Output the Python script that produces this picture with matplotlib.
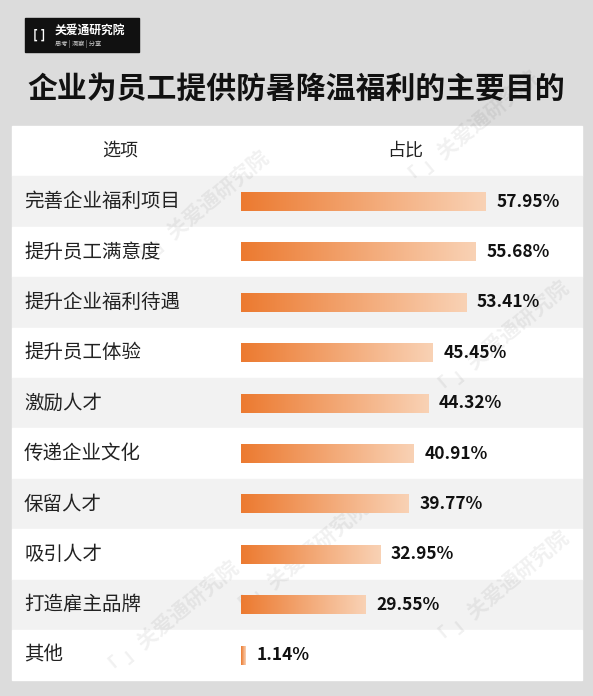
import matplotlib
matplotlib.use("Agg")
import matplotlib.pyplot as plt
import numpy as np
from matplotlib.colors import LinearSegmentedColormap

plt.rcParams['font.family'] = ['Noto Sans CJK SC', 'DejaVu Sans']

title = "企业为员工提供防暑降温福利的主要目的"
categories = ["完善企业福利项目", "提升员工满意度", "提升企业福利待遇", "提升员工体验",
              "激励人才", "传递企业文化", "保留人才", "吸引人才", "打造雇主品牌", "其他"]
values = [57.95, 55.68, 53.41, 45.45, 44.32, 40.91, 39.77, 32.95, 29.55, 1.14]

W, H = 593, 696
fig = plt.figure(figsize=(W / 100, H / 100), dpi=100)
fig.patch.set_facecolor("#dcdcdc")

# pixel-space background axes
bg = fig.add_axes([0, 0, 1, 1])
bg.set_xlim(0, W)
bg.set_ylim(H, 0)
bg.axis("off")

# logo
bg.add_patch(plt.Rectangle((25, 18), 114, 34, color="#111111"))
bg.text(33, 35, "[ ]", color="white", fontsize=9, va="center", weight="bold")
bg.text(55, 30, "关爱通研究院", color="white", fontsize=8.5, va="center", weight="bold")
bg.text(55, 44, "思考 | 洞察 | 分享", color="#cccccc", fontsize=4.5, va="center")

bg.text(W / 2, 89, title, fontsize=21.5, weight="bold", ha="center", va="center", color="#111111")

# table panel
top, row_h, left, right = 126, 50.4, 12, 582
n = len(categories)
bg.add_patch(plt.Rectangle((left, top), right - left, row_h, color="white"))
for i in range(n):
    c = "#f2f2f2" if i % 2 == 0 else "white"
    bg.add_patch(plt.Rectangle((left, top + row_h * (i + 1)), right - left, row_h, color=c))
bg.text(120, top + 25, "选项", fontsize=13, ha="center", va="center", color="#222222")
bg.text(405, top + 25, "占比", fontsize=13, ha="center", va="center", color="#222222")
for i, cat in enumerate(categories):
    bg.text(24, top + row_h * (i + 1.5), cat, fontsize=14, va="center", color="#222222")

# watermarks
for (x, y) in [(200, 210), (470, 130), (500, 340), (300, 560), (500, 590), (170, 620)]:
    bg.text(x, y, "「 」关爱通研究院", fontsize=15, rotation=40, color="#000000", alpha=0.06,
            ha="center", va="center", weight="bold")

# bar axes
px_per_pct = 4.22
ax = fig.add_axes([241 / W, 1 - (top + row_h * (n + 1)) / H,
                   (right - 241) / W, row_h * n / H])
ax.axis("off")
ax.patch.set_alpha(0)

cmap = LinearSegmentedColormap.from_list("og", ["#ec7a30", "#f9d2b5"])
grad = np.linspace(0, 1, 256).reshape(1, -1)
bars = ax.barh(range(n), values, height=0.37, color="none")
for b, v in zip(bars, values):
    y0 = b.get_y()
    ax.imshow(grad, cmap=cmap, aspect="auto", extent=(0, v, y0 + b.get_height(), y0), zorder=2)
    ax.text(v + 2.5, b.get_y() + b.get_height() / 2, f"{v:.2f}%", va="center",
            fontsize=12.5, weight="bold", color="#111111")
ax.set_xlim(0, (right - 241) / px_per_pct)
ax.set_ylim(n - 0.5, -0.5)

fig.savefig("out.png", dpi=100, facecolor=fig.get_facecolor())
